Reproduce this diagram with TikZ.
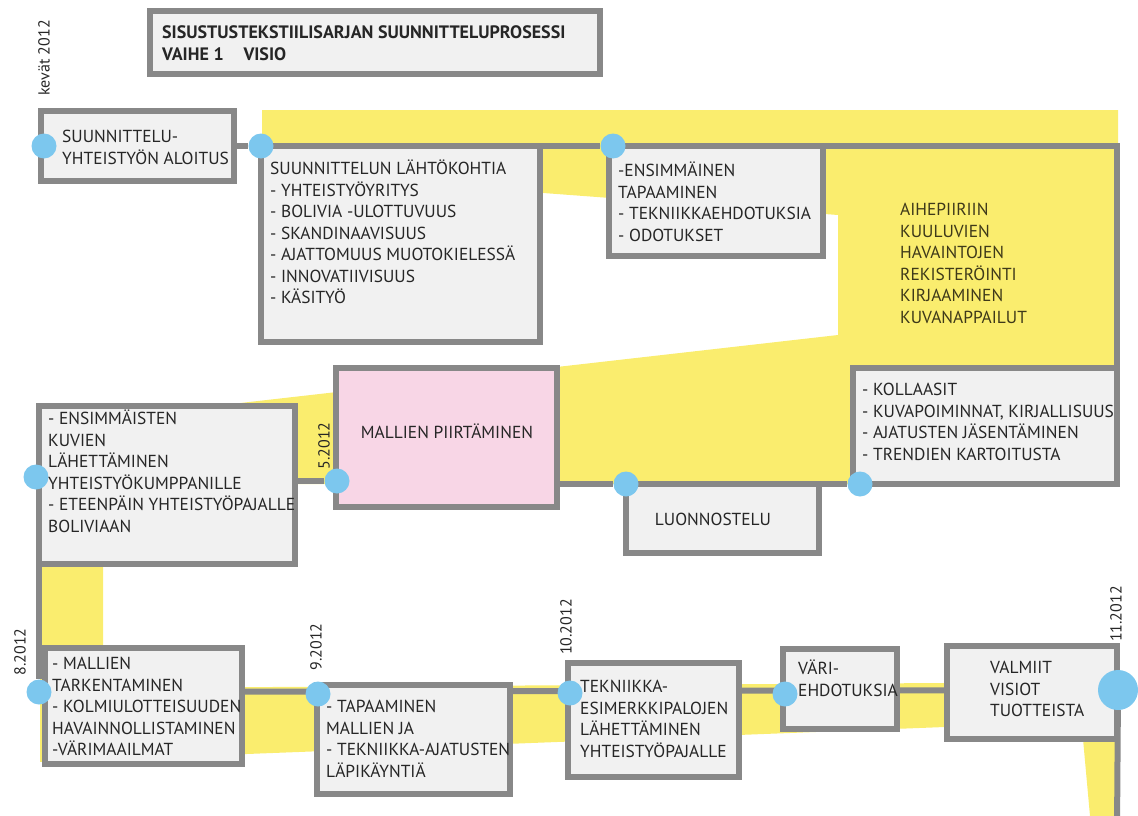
\documentclass[tikz,border=0pt]{standalone}
\usepackage{fontspec}
\setmainfont{PT Sans}
\usetikzlibrary{backgrounds}
\definecolor{bordergray}{RGB}{136,136,136}
\definecolor{boxfill}{RGB}{241,241,241}
\definecolor{hiyellow}{RGB}{250,237,110}
\definecolor{boxpink}{RGB}{248,214,230}
\definecolor{dotblue}{RGB}{124,199,238}
\definecolor{txtgray}{RGB}{38,38,38}
\definecolor{txtolive}{RGB}{62,57,25}
\newcommand\fs{\fontsize{17.4}{21.5}\selectfont}
\newcommand\fst{\fontsize{18}{22}\selectfont\bfseries}
\newcommand\fsr{\fontsize{16}{18}\selectfont}
\begin{document}
\begin{tikzpicture}[x=1pt,y=-1pt,
  box/.style={draw=bordergray, line width=6pt, fill=boxfill, rectangle, inner sep=0pt, outer sep=0pt, anchor=north west},
  conn/.style={draw=bordergray, line width=6pt},
  hl/.style={fill=hiyellow},
  dot/.style={circle, fill=dotblue, inner sep=0pt, minimum size=25pt},
  txt/.style={anchor=north west, inner sep=0pt, align=left, font=\fs, text=txtgray, yshift=9.9pt, execute at begin node={\rule{0pt}{16pt}}},
  txtc/.style={txt, anchor=north},
  datelabel/.style={rotate=90, font=\fsr, text=txtgray, inner sep=0pt}
]
\useasboundingbox (0,0) rectangle (1138,816);

% boxes
\node[box, minimum width=450pt, minimum height=63pt] (title) at (150,11) {};
\node[box, minimum width=193pt, minimum height=70pt] (b1) at (41,111) {};
\node[box, minimum width=279pt, minimum height=196pt] (b2) at (261,146) {};
\node[box, minimum width=214pt, minimum height=110pt] (b3) at (609,146) {};
\node[box, minimum width=264pt, minimum height=116pt] (b10) at (853,368) {};
\node[box, fill=boxpink, minimum width=221pt, minimum height=139pt] (pink) at (336,368) {};
\node[box, minimum width=256pt, minimum height=158pt] (b4) at (39,406) {};
\node[box, minimum width=193pt, minimum height=69pt] (lu) at (626,484) {};
\node[box, minimum width=197pt, minimum height=116pt] (b5) at (45,648) {};
\node[box, minimum width=193pt, minimum height=109pt] (b6) at (317,685) {};
\node[box, minimum width=171pt, minimum height=114pt] (b7) at (568,663) {};
\node[box, minimum width=114pt, minimum height=80pt] (b8) at (783,649) {};
\node[box, minimum width=170pt, minimum height=93pt] (b9) at (947,646) {};

\coordinate (ctr) at (1117,146);
\coordinate (bend) at (1117,830);

% dots
\node[dot] (d1) at (44,146) {};
\node[dot] (d2) at (261,146) {};
\node[dot] (d3) at (613,146) {};
\node[dot] (d4) at (36,477) {};
\node[dot] (d5) at (337,481) {};
\node[dot] (d6) at (626,484) {};
\node[dot] (d7) at (860,484) {};
\node[dot] (d8) at (39,692) {};
\node[dot] (d9) at (318,694) {};
\node[dot] (d10) at (570,693) {};
\node[dot] (d11) at (785,694) {};
\node[dot, minimum size=40pt] (d12) at (1118,690) {};

\begin{scope}[on background layer]
  % yellow highlight bands
  \path[hl] (262,110) -- (1118,110) -- (1118,368) -- (838,368) -- (838,215) -- (262,172) -- cycle;
  \path[hl] (214,406) -- (838,335) -- (853,335) -- (853,484) -- (298,484) -- (298,406) -- cycle;
  \path[hl] (40,567) -- (103,567) -- (103,688) -- (945,683) -- (945,727) -- (40,762) -- cycle;
  \path[hl] (1083,739) -- (1117,739) -- (1117,816) -- (1090,816) -- cycle;
  % connectors
  \draw[conn] (b1.east) -- (d2);
  \draw[conn] (b2.north east) -- (d3);
  \draw[conn] (b3.north east) -- (ctr) -- (b10.north east);
  \draw[conn] (d5 -| b4.east) -- (d5);
  \draw[conn] (d6 -| pink.east) -- (d6) -- (d7);
  \draw[conn] (b4.south west) -- (d8);
  \draw[conn] (d8) -- (d12);
  \draw[conn] (d12) -- (bend);
\end{scope}

% texts
\node[txt, font=\fst] (tt) at (162,35) {SISUSTUSTEKSTIILISARJAN SUUNNITTELUPROSESSI\\VAIHE 1\hspace{1.1em}VISIO};
\node[txt] (t1) at (62,140) {SUUNNITTELU-\\YHTEISTYÖN ALOITUS};
\node[txt] (t2) at (270,170) {SUUNNITTELUN LÄHTÖKOHTIA\\- YHTEISTYÖYRITYS\\- BOLIVIA -ULOTTUVUUS\\- SKANDINAAVISUUS\\- AJATTOMUUS MUOTOKIELESSÄ\\- INNOVATIIVISUUS\\- KÄSITYÖ};
\node[txt] (t3) at (618,172) {-ENSIMMÄINEN\\TAPAAMINEN\\- TEKNIIKKAEHDOTUKSIA\\- ODOTUKSET};
\node[txt, text=txtolive] (t11) at (900,213) {AIHEPIIRIIN\\KUULUVIEN\\HAVAINTOJEN\\REKISTERÖINTI\\KIRJAAMINEN\\KUVANAPPAILUT};
\node[txt] (t10) at (862,393) {- KOLLAASIT\\- KUVAPOIMINNAT, KIRJALLISUUS\\- AJATUSTEN JÄSENTÄMINEN\\- TRENDIEN KARTOITUSTA};
\node[txt] (t4) at (48,420) {- ENSIMMÄISTEN\\KUVIEN\\LÄHETTÄMINEN\\YHTEISTYÖKUMPPANILLE\\- ETEENPÄIN YHTEISTYÖPAJALLE\\BOLIVIAAN};
\node[txtc] (tp) at (447,432) {MALLIEN PIIRTÄMINEN};
\node[txtc] (tl) at (713,519) {LUONNOSTELU};
\node[txt] (t5) at (52,667) {- MALLIEN\\TARKENTAMINEN\\- KOLMIULOTTEISUUDEN\\HAVAINNOLLISTAMINEN\\-VÄRIMAAILMAT};
\node[txt] (t6) at (326,710) {- TAPAAMINEN\\MALLIEN JA\\- TEKNIIKKA-AJATUSTEN\\LÄPIKÄYNTIÄ};
\node[txt] (t7) at (580,690) {TEKNIIKKA-\\ESIMERKKIPALOJEN\\LÄHETTÄMINEN\\YHTEISTYÖPAJALLE};
\node[txt] (t8) at (798,670) {VÄRI-\\EHDOTUKSIA};
\node[txt] (t9) at (990,671) {VALMIIT\\VISIOT\\TUOTTEISTA};

% date labels
\node[datelabel] (l1) at (44,58) {kevät 2012};
\node[datelabel] (l2) at (324,446) {5.2012};
\node[datelabel] (l3) at (20,652) {8.2012};
\node[datelabel] (l4) at (316,647) {9.2012};
\node[datelabel] (l5) at (566,627) {10.2012};
\node[datelabel] (l6) at (1116,614) {11.2012};
\end{tikzpicture}
\end{document}
